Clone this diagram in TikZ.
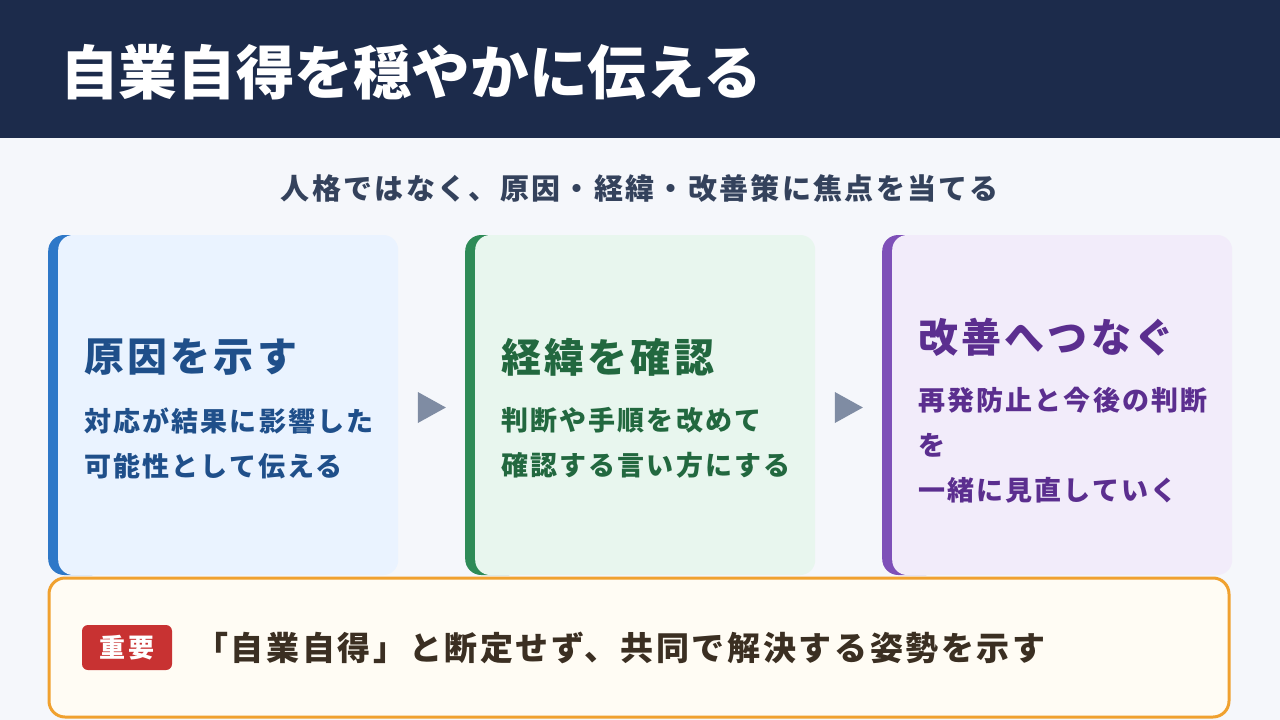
\documentclass[tikz,border=0pt]{standalone}
\usepackage{fontspec}
\usepackage{xcolor}
\usetikzlibrary{positioning,shapes.geometric}
\setmainfont{Noto Sans CJK JP}
\newfontfamily\jpwide{Noto Sans CJK JP}[LetterSpace=8]
\definecolor{pagebg}{HTML}{F5F7FB}
\definecolor{titlenavy}{HTML}{1C2B4B}
\definecolor{subink}{HTML}{34425C}
\definecolor{bluebar}{HTML}{2E78C8}
\definecolor{bluefill}{HTML}{EAF3FF}
\definecolor{blueink}{HTML}{1F4F8A}
\definecolor{greenbar}{HTML}{2E8B57}
\definecolor{greenfill}{HTML}{E8F6EE}
\definecolor{greenink}{HTML}{22683F}
\definecolor{purplebar}{HTML}{7E50B8}
\definecolor{purplefill}{HTML}{F2ECFA}
\definecolor{purpleink}{HTML}{5B2E8F}
\definecolor{triangray}{HTML}{7F8CA3}
\definecolor{noteorange}{HTML}{F0A12F}
\definecolor{notecream}{HTML}{FFFCF4}
\definecolor{noteink}{HTML}{3B2F22}
\definecolor{badgered}{HTML}{C83232}

\begin{document}
\begin{tikzpicture}[x=1pt,y=-1pt,
    cardbar/.style={rectangle,rounded corners=16pt,minimum width=60pt,minimum height=340pt,inner sep=0pt,anchor=west},
    cardface/.style={rectangle,rounded corners=15pt,minimum width=340pt,minimum height=340pt,inner sep=0pt,anchor=west},
    cardhead/.style={anchor=west,inner sep=0pt,font=\jpwide\bfseries\fontsize{40}{48}\selectfont},
    cardbody/.style={anchor=west,inner sep=0pt,align=left,font=\jpwide\bfseries\fontsize{27}{45}\selectfont},
    flowtri/.style={isosceles triangle,fill=triangray,inner sep=0pt,minimum width=31pt,minimum height=28pt,isosceles triangle stretches},
    notebox/.style={rectangle,rounded corners=16pt,draw=noteorange,line width=3pt,fill=notecream,minimum width=1180pt,minimum height=139pt},
    badge/.style={rectangle,rounded corners=6pt,fill=badgered,text=white,minimum width=90pt,minimum height=45pt,inner sep=0pt,font=\jpwide\bfseries\fontsize{26}{30}\selectfont}
  ]
    \useasboundingbox (0,0) rectangle (1280,720);
    \fill[pagebg] (0,0) rectangle (1280,720);
    \fill[titlenavy] (0,0) rectangle (1280,138);
    \node[anchor=west,inner sep=0pt,text=white,font=\bfseries\fontsize{58.6}{66}\selectfont] (title) at (60,72) {自業自得を穏やかに伝える};
    \node[inner sep=0pt,text=subink,font=\jpwide\bfseries\fontsize{29}{34}\selectfont] (subtitle) at (640,188) {人格ではなく、原因・経緯・改善策に焦点を当てる};

    \node[cardbar,fill=bluebar] (bar1) at (48,405) {};
    \node[cardface,fill=bluefill] (card1) at (58,405) {};
    \node[cardhead,text=blueink] (head1) at (84,357) {原因を示す};
    \node[cardbody,text=blueink] (body1) at (84,443) {対応が結果に影響した\\可能性として伝える};

    \node[cardbar,fill=greenbar] (bar2) at (465,405) {};
    \node[cardface,fill=greenfill] (card2) at (475,405) {};
    \node[cardhead,text=greenink] (head2) at (501,357) {経緯を確認};
    \node[cardbody,text=greenink] (body2) at (501,443) {判断や手順を改めて\\確認する言い方にする};

    \node[cardbar,fill=purplebar] (bar3) at (882,405) {};
    \node[cardface,fill=purplefill] (card3) at (892,405) {};
    \node[cardhead,text=purpleink] (head3) at (918,337) {改善へつなぐ};
    \node[cardbody,text=purpleink] (body3) at (918,445) {再発防止と今後の判断\\を\\一緒に見直していく};

    \node[flowtri] (tri1) at (427,407.5) {};
    \node[flowtri] (tri2) at (844,407.5) {};

    \node[notebox] (note) at (639,647.5) {};
    \node[badge] (important) at (127,647.5) {重要};
    \node[anchor=west,inner sep=0pt,text=noteink,font=\jpwide\bfseries\fontsize{33}{38}\selectfont] (notetext) at (195,648) {「自業自得」と断定せず、共同で解決する姿勢を示す};
  \end{tikzpicture}
\end{document}
